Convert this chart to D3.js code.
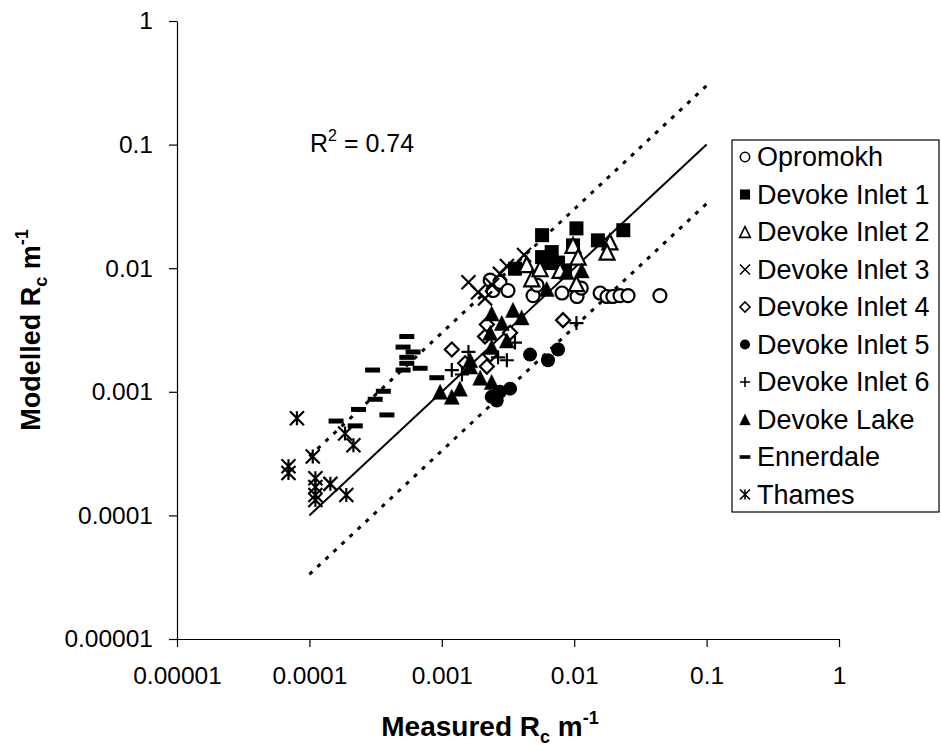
<!DOCTYPE html>
<html>
<head>
<meta charset="utf-8">
<script src="https://cdn.jsdelivr.net/npm/d3@7"></script>
<style>
  body { margin: 0; background: #fff; }
  svg text { font-family: "Liberation Sans", Arial, sans-serif; fill: #000; }
  .axis path, .axis line { stroke: #000; stroke-width: 1.2; }
  .axis text { font-size: 24.5px; }
</style>
</head>
<body>
<div id="chart"></div>
<script>
// measured / modelled Rc (m^-1)
var opromokh = [[0.00232,0.0080],[0.00244,0.0066],[0.00275,0.0077],[0.00316,0.0066],[0.00489,0.0060],[0.00524,0.0073],
  [0.00809,0.0063],[0.0105,0.0059],[0.0113,0.0069],[0.0157,0.0063],[0.0177,0.0059],[0.0196,0.0059],[0.0222,0.0060],[0.0255,0.0060],[0.0444,0.0060]];
var inlet1 = [[0.00572,0.0185],[0.0104,0.0210],[0.0098,0.0153],[0.0151,0.0168],[0.0235,0.0203],[0.00357,0.0099],
  [0.00572,0.0123],[0.00676,0.0135],[0.00657,0.0110],[0.00755,0.0111],[0.00853,0.0096]];
var inlet2 = [[0.00438,0.0107],[0.00478,0.0082],[0.00552,0.0099],[0.0098,0.0153],[0.0107,0.0123],[0.0104,0.0075],
  [0.0186,0.0163],[0.0177,0.0135],[0.00782,0.0096]];
var inlet3 = [[0.00159,0.0077],[0.00188,0.0064],[0.00212,0.0057],[0.00275,0.0090],[0.0031,0.0104],[0.0024,0.0073],[0.00418,0.0128]];
var inlet4 = [[0.00823,0.0038],[0.00119,0.0022],[0.0015,0.0017],[0.00219,0.0016],[0.00212,0.0028],[0.00219,0.0035],
  [0.00328,0.0030],[0.00232,0.0020]];
var inlet5 = [[0.00464,0.0020],[0.00634,0.0018],[0.00755,0.0022],[0.00238,0.00091],[0.00275,0.00100],[0.00328,0.00106],[0.0026,0.00085]];
var inlet6 = [[0.0104,0.0036],[0.00159,0.0021],[0.00119,0.0015],[0.00357,0.0025],[0.0031,0.0018],[0.00266,0.0019],[0.00142,0.00138]];
var lake = [[0.00238,0.0043],[0.00345,0.0046],[0.00284,0.0036],[0.00401,0.0040],[0.00232,0.0030],[0.0031,0.0026],
  [0.00238,0.0023],[0.00164,0.0018],[0.00164,0.0016],[0.00195,0.0013],[0.00238,0.0012],[0.000971,0.0010],
  [0.00119,0.00091],[0.00137,0.00106],[0.0062,0.0068],[0.00878,0.0093],[0.0114,0.0096]];
var ennerdale = [[0.000159,0.00058],[0.000222,0.00053],[0.000235,0.00072],[0.000314,0.00087],[0.000362,0.00101],
  [0.000385,0.00065],[0.0003,0.0015],[0.00051,0.0023],[0.000544,0.0028],[0.000607,0.0021],[0.000544,0.0019],
  [0.000544,0.0017],[0.00051,0.0015],[0.000686,0.00155],[0.000917,0.0013]];
var thames = [[0.0000805,0.00061],[0.000186,0.00046],[0.000215,0.00037],[0.000106,0.00030],[0.0000695,0.00025],
  [0.0000695,0.00022],[0.000111,0.00020],[0.000144,0.00018],[0.000111,0.00017],[0.000111,0.000146],
  [0.000111,0.000133],[0.00019,0.000146]];

var seriesNames = ["Opromokh","Devoke Inlet 1","Devoke Inlet 2","Devoke Inlet 3","Devoke Inlet 4",
  "Devoke Inlet 5","Devoke Inlet 6","Devoke Lake","Ennerdale","Thames"];
var seriesMarkers = ["circle","square","triangle","x","diamond","dot","plus","triangleFilled","dash","star"];
var seriesData = [opromokh, inlet1, inlet2, inlet3, inlet4, inlet5, inlet6, lake, ennerdale, thames];

var tickValues = [0.00001, 0.0001, 0.001, 0.01, 0.1, 1];
var tickLabels = ["0.00001","0.0001","0.001","0.01","0.1","1"];
var lineRange = [0.0001, 0.1];  // 1:1 line and x3 / /3 bands
var r2Text = "0.74";

var margin = {top: 21, right: 102, bottom: 112, left: 177};
var width = 941 - margin.left - margin.right,
    height = 751 - margin.top - margin.bottom;

var svg = d3.select("#chart").append("svg")
    .attr("width", 941)
    .attr("height", 751);

var g = svg.append("g")
    .attr("transform", "translate(" + margin.left + "," + margin.top + ")");

var xScale = d3.scaleLog().domain([0.00001, 1]).range([0, width]);
var yScale = d3.scaleLog().domain([0.00001, 1]).range([height, 0]);

var xAxis = d3.axisBottom(xScale)
    .tickValues(tickValues)
    .tickFormat(function(d, i) { return tickLabels[i]; })
    .tickSize(8).tickSizeOuter(0).tickPadding(20);
var yAxis = d3.axisLeft(yScale)
    .tickValues(tickValues)
    .tickFormat(function(d, i) { return tickLabels[i]; })
    .tickSize(8).tickSizeOuter(0).tickPadding(16);

g.append("g").attr("class", "x axis")
    .attr("transform", "translate(0," + height + ")")
    .call(xAxis);
g.append("g").attr("class", "y axis").call(yAxis);

// 1:1 line and factor-of-3 dotted lines
var line = d3.line().x(function(d) { return xScale(d[0]); }).y(function(d) { return yScale(d[1]); });
[[1, "none"], [3, "4,7"], [1/3, "4,7"]].forEach(function(f) {
  g.append("path")
    .datum(lineRange.map(function(v) { return [v, v * f[0]]; }))
    .attr("d", line)
    .attr("fill", "none")
    .attr("stroke", "#000")
    .attr("stroke-width", f[1] == "none" ? 2 : 3)
    .attr("stroke-dasharray", f[1]);
});

function marker(sel, type) {
  var s = 7;
  var sw = 2.2;
  if (type == "circle") {
    sel.append("circle").attr("r", s - 0.5).attr("fill", "#fff").attr("stroke", "#000").attr("stroke-width", sw);
  } else if (type == "dot") {
    sel.append("circle").attr("r", s).attr("fill", "#000");
  } else if (type == "square") {
    sel.append("rect").attr("x", -s).attr("y", -s).attr("width", 2 * s).attr("height", 2 * s).attr("fill", "#000");
  } else if (type == "triangle" || type == "triangleFilled") {
    var h = s + 0.5;
    sel.append("path")
      .attr("d", "M0," + (-h) + "L" + h + "," + h + "L" + (-h) + "," + h + "Z")
      .attr("fill", type == "triangle" ? "#fff" : "#000")
      .attr("stroke", "#000").attr("stroke-width", type == "triangle" ? sw : 0.5)
      .attr("stroke-linejoin", "miter");
  } else if (type == "diamond") {
    sel.append("path")
      .attr("d", "M0," + (-s) + "L" + s + ",0L0," + s + "L" + (-s) + ",0Z")
      .attr("fill", "#fff").attr("stroke", "#000").attr("stroke-width", sw);
  } else if (type == "x") {
    sel.append("path")
      .attr("d", "M" + (-s) + "," + (-s) + "L" + s + "," + s + "M" + s + "," + (-s) + "L" + (-s) + "," + s)
      .attr("stroke", "#000").attr("stroke-width", sw);
  } else if (type == "plus") {
    sel.append("path")
      .attr("d", "M" + (-s) + ",0L" + s + ",0M0," + (-s) + "L0," + s)
      .attr("stroke", "#000").attr("stroke-width", sw);
  } else if (type == "dash") {
    sel.append("rect").attr("x", -s - 0.5).attr("y", -2.5).attr("width", 2 * s + 1).attr("height", 5).attr("fill", "#000");
  } else if (type == "star") {
    sel.append("path")
      .attr("d", "M" + (-s) + "," + (-s) + "L" + s + "," + s + "M" + s + "," + (-s) + "L" + (-s) + "," + s +
                 "M0," + (-s) + "L0," + s)
      .attr("stroke", "#000").attr("stroke-width", sw);
  }
}

seriesData.forEach(function(data, i) {
  g.append("g").attr("class", "series")
    .selectAll("g")
    .data(data)
    .enter().append("g")
    .attr("transform", function(d) { return "translate(" + xScale(d[0]) + "," + yScale(d[1]) + ")"; })
    .each(function() { marker(d3.select(this), seriesMarkers[i]); });
});

// R squared label
var r2 = svg.append("text").attr("x", 310).attr("y", 152).style("font-size", "25px");
r2.append("tspan").text("R");
r2.append("tspan").attr("dy", -11).style("font-size", "16px").text("2");
r2.append("tspan").attr("dy", 11).text(" = " + r2Text);

// axis titles
var xt = svg.append("text").attr("x", 490).attr("y", 736).attr("text-anchor", "middle")
    .style("font-size", "28px").style("font-weight", "bold");
xt.append("tspan").text("Measured R");
xt.append("tspan").attr("dy", 7).style("font-size", "18px").text("c");
xt.append("tspan").attr("dy", -7).text(" m");
xt.append("tspan").attr("dy", -12).style("font-size", "18px").text("-1");

var yt = svg.append("text").attr("transform", "translate(40,330) rotate(-90)").attr("text-anchor", "middle")
    .style("font-size", "27px").style("font-weight", "bold");
yt.append("tspan").text("Modelled R");
yt.append("tspan").attr("dy", 7).style("font-size", "18px").text("c");
yt.append("tspan").attr("dy", -7).text(" m");
yt.append("tspan").attr("dy", -12).style("font-size", "18px").text("-1");

// legend
var legend = svg.append("g").attr("transform", "translate(732,140)");
legend.append("rect").attr("width", 207).attr("height", 372)
    .attr("fill", "#fff").attr("stroke", "#000").attr("stroke-width", 1.2);
seriesNames.forEach(function(name, i) {
  var row = legend.append("g").attr("transform", "translate(0," + (17 + i * 37.5) + ")");
  var m = row.append("g").attr("transform", "translate(13,0) scale(0.72)");
  marker(m, seriesMarkers[i]);
  row.append("text").attr("x", 25).attr("y", 9).style("font-size", "27px").text(name);
});
</script>
</body>
</html>
